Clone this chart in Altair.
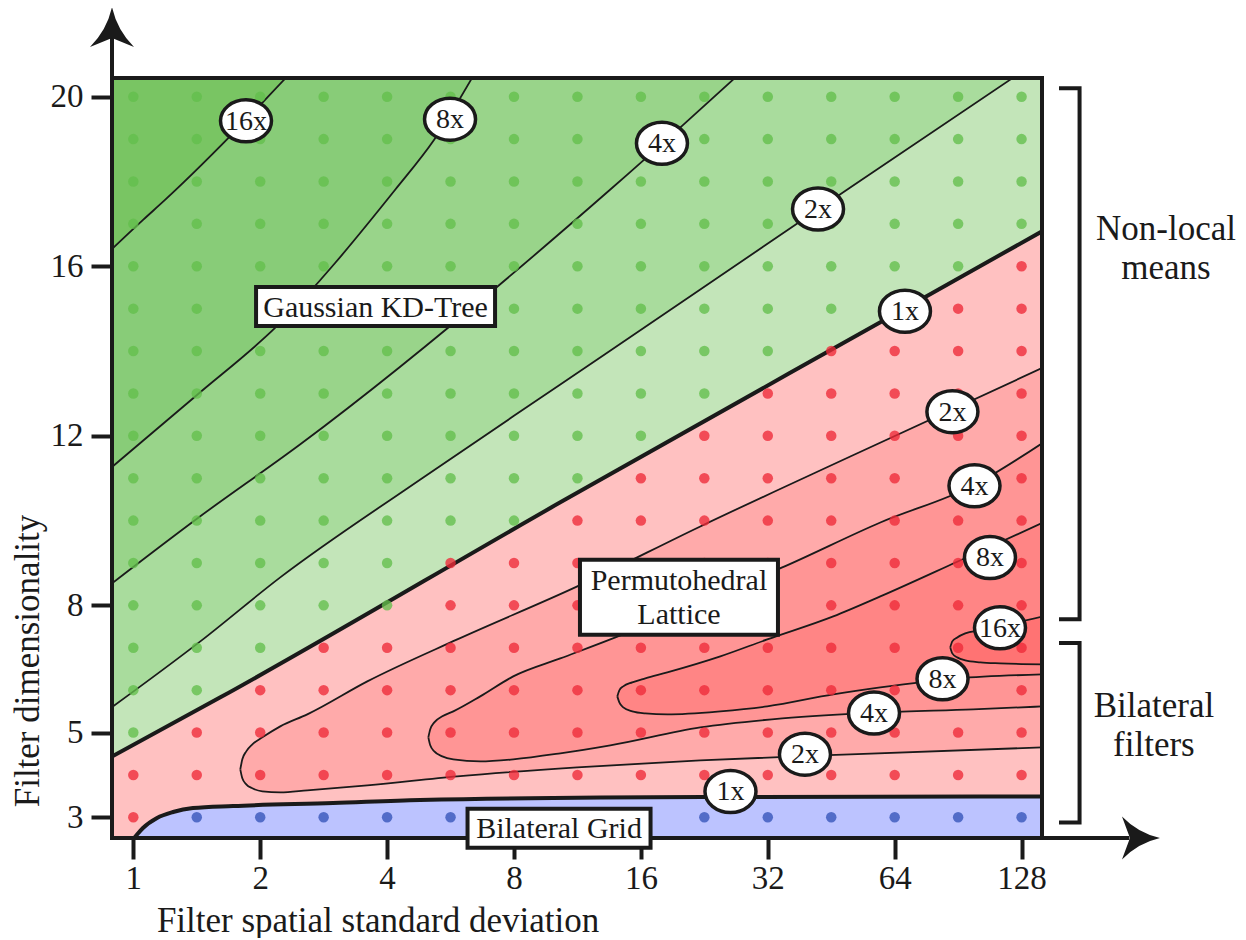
import json
import altair as alt
import pandas as pd

FONT = "Liberation Serif"

# ---------------- data ----------------
# x values are log2 of the filter spatial standard deviation (0 -> 1, 7 -> 128)
X_TICKS = [0, 1, 2, 3, 4, 5, 6, 7]
X_TICK_LABELS = ["1", "2", "4", "8", "16", "32", "64", "128"]
Y_TICKS = [3, 5, 8, 12, 16, 20]

SAMPLE_LOG2_SIGMA = [0, 0.5, 1, 1.5, 2, 2.5, 3, 3.5, 4, 4.5, 5, 5.5, 6, 6.5, 7]
SAMPLE_DIMS = [20, 19, 18, 17, 16, 15, 14, 13, 12, 11, 10, 9, 8, 7, 6, 5, 4, 3]
# fastest method per sample: G = Gaussian KD-tree, R = permutohedral lattice, B = bilateral grid
WINNER_ROWS = [
    "GGGGGGGGGGGGGGG",
    "GGGGGGGGGGGGGGG",
    "GGGGGGGGGGGGGGG",
    "GGGGGGGGGGGGGGG",
    "GGGGGGGGGGGGGGR",
    "GGGGGGGGGGGGGRR",
    "GGGGGGGGGGGRRRR",
    "GGGGGGGGGGRRRRR",
    "GGGGGGGGGRRRRRR",
    "GGGGGGGGRRRRRRR",
    "GGGGGGGRRRRRRRR",
    "GGGGGRRRRRRRRRR",
    "GGGGGRRRRRRRRRR",
    "GGGRRRRRRRRRRRR",
    "GGRRRRRRRRRRRRR",
    "GRRRRRRRRRRRRRR",
    "RRRRRRRRRRRRRRR",
    "RBBBBBBBBBBBBBB",
]

# Gaussian KD-tree speed-up iso-lines (x = log2 sigma, d = dimensionality)
KD_1X_X = [-0.181, 0.686, 3.365, 5.887, 7.171]
KD_1X_D = [4.415, 5.83, 10.43, 14.68, 16.84]
KD_2X_X = [-0.181, 0.528, 1.158, 2.262, 3.365, 4.468, 5.650, 6.935, 7.171]
KD_2X_D = [5.57, 7.15, 8.66, 10.97, 13.21, 15.45, 17.86, 20.45, 20.92]
KD_4X_X = [-0.181, 0.504, 1.316, 3.759, 4.342, 4.744, 4.941]
KD_4X_D = [8.49, 10.05, 11.80, 17.81, 19.36, 20.45, 20.99]
KD_8X_X = [-0.181, 0.504, 1.119, 2.065, 2.372, 2.671, 2.774]
KD_8X_D = [11.23, 12.97, 14.55, 17.81, 18.99, 20.45, 20.99]
KD_16X_X = [-0.181, 0.079, 0.252, 0.875, 1.198, 1.355]
KD_16X_D = [16.37, 17.10, 17.57, 19.41, 20.43, 20.92]

# bilateral grid / permutohedral boundary
GRID_X = [-0.042, 0.013, 0.076, 0.187, 0.313, 0.470, 0.786, 1.574, 2.259, 4.489, 7.169]
GRID_D = [2.347, 2.535, 2.748, 2.984, 3.125, 3.219, 3.267, 3.337, 3.408, 3.479, 3.491]

# permutohedral lattice speed-up regions (upper / lower boundary)
PL_2X_X = [0.843, 0.859, 0.890, 0.938, 1.017, 1.158, 1.371, 1.844, 2.553, 3.499, 4.468, 5.650, 7.171]
PL_2X_UP = [4.132, 4.368, 4.556, 4.721, 4.886, 5.146, 5.429, 6.207, 7.197, 8.447, 9.862, 11.512, 13.611]
PL_2X_LO = [4.132, 3.920, 3.778, 3.684, 3.613, 3.590, 3.637, 3.755, 3.967, 4.179, 4.344, 4.486, 4.651]
PL_4X_X = [2.325, 2.340, 2.372, 2.435, 2.522, 2.734, 2.994, 3.365, 3.759, 4.468, 5.114, 5.887, 6.619, 7.171]
PL_4X_UP = [4.886, 5.075, 5.240, 5.382, 5.500, 5.853, 6.325, 6.749, 7.197, 8.093, 8.895, 9.956, 10.829, 11.843]
PL_4X_LO = [4.886, 4.698, 4.556, 4.438, 4.368, 4.320, 4.368, 4.509, 4.698, 5.122, 5.334, 5.476, 5.547, 5.617]
PL_8X_X = [3.814, 3.830, 3.861, 3.932, 4.035, 4.208, 4.626, 4.996, 5.516, 5.887, 6.493, 7.171]
PL_8X_UP = [5.853, 5.995, 6.089, 6.183, 6.278, 6.419, 6.797, 7.197, 7.740, 8.211, 9.030, 9.956]
PL_8X_LO = [5.853, 5.712, 5.594, 5.500, 5.452, 5.429, 5.500, 5.617, 5.900, 6.065, 6.278, 6.372]
PL_16X_X = [6.438, 6.454, 6.493, 6.556, 6.675, 6.832, 7.171]
PL_16X_UP = [7.009, 7.150, 7.244, 7.339, 7.409, 7.504, 7.740]
PL_16X_LO = [7.009, 6.867, 6.773, 6.702, 6.655, 6.631, 6.608]

SPEEDUP_LABELS = ["16x", "8x", "4x", "2x", "1x", "2x", "4x", "8x", "16x", "8x", "4x", "2x", "1x"]
SPEEDUP_X = [0.888, 2.496, 4.166, 5.396, 6.081, 6.455, 6.629, 6.751, 6.830, 6.377, 5.837, 5.293, 4.706]
SPEEDUP_D = [19.43, 19.47, 18.90, 17.35, 14.94, 12.57, 10.82, 9.13, 7.47, 6.27, 5.46, 4.49, 3.61]

METHOD_NAMES = ["Gaussian KD-Tree", "Permutohedral\nLattice", "Bilateral Grid"]
METHOD_X = [1.909, 4.300, 3.355]
METHOD_D = [15.05, 8.19, 2.74]

APPLICATIONS = ["Non-local\nmeans", "Bilateral\nfilters"]
APP_TOP = [20.197, 7.112]
APP_BOTTOM = [7.671, 2.877]
APP_TEXT_X = [8.138, 8.043]
APP_TEXT_D = [16.44, 5.166]

# ---------------- styling ----------------
XMIN, XMAX = -0.168, 7.161
YMIN, YMAX = 2.512, 20.441
BELOW, ABOVE = 2.2, 21.6

G_1X, G_2X, G_4X, G_8X, G_16X = "#c3e5b9", "#a9dc9d", "#99d48a", "#88cc78", "#79c563"
R_1X, R_2X, R_4X, R_8X, R_16X = "#ffc1c1", "#ffaaaa", "#ff9595", "#ff8585", "#ff7373"
BLUE = "#bcc3ff"
INK = "#1a1a1a"

XS = alt.Scale(domain=[XMIN, XMAX], nice=False, zero=False)
YS = alt.Scale(domain=[YMIN, YMAX], nice=False, zero=False)

XAXIS = alt.Axis(
    values=X_TICKS, labelExpr=json.dumps(X_TICK_LABELS) + "[datum.value]",
    title="Filter spatial standard deviation", domain=False, grid=False,
    tickSize=21, tickWidth=4, tickColor=INK,
    labelFont=FONT, labelFontSize=33, labelColor=INK, labelPadding=3,
    labelFlush=False, labelOverlap=False,
    titleFont=FONT, titleFontSize=35, titleFontWeight="normal", titleColor=INK,
    titleX=265.5, titleY=93, titleAlign="center", titleBaseline="alphabetic",
)
YAXIS = alt.Axis(
    values=Y_TICKS, title="Filter dimensionality", domain=False, grid=False,
    tickSize=21, tickWidth=4, tickColor=INK,
    labelFont=FONT, labelFontSize=33, labelColor=INK, labelPadding=8,
    labelFlush=False, labelOverlap=False,
    titleFont=FONT, titleFontSize=35, titleFontWeight="normal", titleColor=INK,
    titleX=-74, titleY=582.5, titleAngle=270, titleAlign="center", titleBaseline="alphabetic",
)


def ex(field="x"):
    return alt.X(f"{field}:Q", scale=XS, axis=XAXIS)


def ey(field="d"):
    return alt.Y(f"{field}:Q", scale=YS, axis=YAXIS)


layers = []


def add_band(xs, ds, other, color):
    df = pd.DataFrame({"x": xs, "d": ds, "d2": [other] * len(xs)})
    layers.append(
        alt.Chart(df).mark_area(color=color, opacity=1, clip=True, interpolate="monotone")
        .encode(x=ex(), y=ey(), y2="d2:Q")
    )


def add_line(xs, ds, width):
    df = pd.DataFrame({"x": xs, "d": ds})
    layers.append(
        alt.Chart(df).mark_line(color=INK, strokeWidth=width, clip=True, interpolate="monotone")
        .encode(x=ex(), y=ey())
    )


def add_region(xs, up, lo, color):
    df = pd.DataFrame({"x": xs, "up": up, "lo": lo})
    layers.append(
        alt.Chart(df).mark_area(color=color, opacity=1, clip=True, interpolate="monotone")
        .encode(x=ex(), y=ey("up"), y2="lo:Q")
    )


# fills
add_band(KD_1X_X, KD_1X_D, BELOW, R_1X)
add_band(KD_1X_X, KD_1X_D, ABOVE, G_1X)
add_band(KD_2X_X, KD_2X_D, ABOVE, G_2X)
add_band(KD_4X_X, KD_4X_D, ABOVE, G_4X)
add_band(KD_8X_X, KD_8X_D, ABOVE, G_8X)
add_band(KD_16X_X, KD_16X_D, ABOVE, G_16X)
add_band(GRID_X, GRID_D, BELOW, BLUE)
add_region(PL_2X_X, PL_2X_UP, PL_2X_LO, R_2X)
add_region(PL_4X_X, PL_4X_UP, PL_4X_LO, R_4X)
add_region(PL_8X_X, PL_8X_UP, PL_8X_LO, R_8X)
add_region(PL_16X_X, PL_16X_UP, PL_16X_LO, R_16X)

# contour lines
for xs, ds in [(KD_2X_X, KD_2X_D), (KD_4X_X, KD_4X_D), (KD_8X_X, KD_8X_D), (KD_16X_X, KD_16X_D)]:
    add_line(xs, ds, 1.8)
for xs, up, lo in [(PL_2X_X, PL_2X_UP, PL_2X_LO), (PL_4X_X, PL_4X_UP, PL_4X_LO),
                   (PL_8X_X, PL_8X_UP, PL_8X_LO), (PL_16X_X, PL_16X_UP, PL_16X_LO)]:
    add_line(xs, up, 1.8)
    add_line(xs, lo, 1.8)
add_line(KD_1X_X, KD_1X_D, 4)
add_line(GRID_X, GRID_D, 4)

# samples
rows = []
for d, row in zip(SAMPLE_DIMS, WINNER_ROWS):
    for xv, w in zip(SAMPLE_LOG2_SIGMA, row):
        rows.append({"x": xv, "d": d, "winner": w})
samples = pd.DataFrame(rows)
layers.append(
    alt.Chart(samples).mark_point(shape="circle", filled=True, size=110, opacity=0.78, strokeWidth=0)
    .encode(x=ex(), y=ey(),
            color=alt.Color("winner:N", legend=None,
                            scale=alt.Scale(domain=["G", "R", "B"],
                                            range=["#63bf4c", "#ee2a38", "#3553b8"])))
)

# frame
frame = pd.DataFrame({"x": [XMIN], "x2": [XMAX], "d": [YMIN], "d2": [YMAX]})
layers.append(
    alt.Chart(frame).mark_rect(fill="white", fillOpacity=0, stroke=INK, strokeWidth=4, clip=False)
    .encode(x=ex(), x2="x2:Q", y=ey(), y2="d2:Q")
)

# axis arrows
layers.append(
    alt.Chart(pd.DataFrame({"x": [XMIN], "d": [YMAX], "d2": [21.4]}))
    .mark_rule(color=INK, strokeWidth=4, clip=False).encode(x=ex(), y=ey(), y2="d2:Q")
)
layers.append(
    alt.Chart(pd.DataFrame({"x": [XMAX], "x2": [7.85], "d": [YMIN]}))
    .mark_rule(color=INK, strokeWidth=4, clip=False).encode(x=ex(), x2="x2:Q", y=ey())
)
layers.append(
    alt.Chart(pd.DataFrame({"x": [XMIN], "d": [21.644]}))
    .mark_point(shape="M0,-20 Q5,3 22,20 L0,11 L-22,20 Q-5,3 0,-20 Z", size=4, filled=True,
                color=INK, opacity=1, strokeWidth=0, clip=False)
    .encode(x=ex(), y=ey())
)
layers.append(
    alt.Chart(pd.DataFrame({"x": [7.941], "d": [YMIN]}))
    .mark_point(shape="M19,0 Q-3,5 -19,21.5 L-11,0 L-19,-21.5 Q-3,-5 19,0 Z", size=4, filled=True,
                color=INK, opacity=1, strokeWidth=0, clip=False)
    .encode(x=ex(), y=ey())
)

# speed-up labels
lab = pd.DataFrame({"x": SPEEDUP_X, "d": SPEEDUP_D, "t": SPEEDUP_LABELS})
layers.append(
    alt.Chart(lab).mark_point(shape="M-25.5,0 A25.5,21 0 1,0 25.5,0 A25.5,21 0 1,0 -25.5,0 Z",
                              size=4, filled=True, fill="white", stroke=INK,
                              strokeWidth=3.5, opacity=1, clip=False)
    .encode(x=ex(), y=ey())
)
layers.append(
    alt.Chart(lab).mark_text(font=FONT, fontSize=28, color=INK, align="center",
                             baseline="middle", dy=1, clip=False)
    .encode(x=ex(), y=ey(), text="t:N")
)

# method boxes
BOX_SHAPES = ["M-119.5,-19.5 H119.5 V19.5 H-119.5 Z",
              "M-99,-37.5 H99 V37.5 H-99 Z",
              "M-91.5,-19.5 H91.5 V19.5 H-91.5 Z"]
BOX_TEXT_DY = [1, -16, 1]
for name, xv, dv, shp, tdy in zip(METHOD_NAMES, METHOD_X, METHOD_D, BOX_SHAPES, BOX_TEXT_DY):
    df = pd.DataFrame({"x": [xv], "d": [dv], "t": [name]})
    layers.append(
        alt.Chart(df).mark_point(shape=shp, size=4, filled=True, fill="white", stroke=INK,
                                 strokeWidth=4, opacity=1, clip=False)
        .encode(x=ex(), y=ey())
    )
    layers.append(
        alt.Chart(df).mark_text(font=FONT, fontSize=30, color=INK, align="center",
                                baseline="middle", lineBreak="\n", lineHeight=34, dy=tdy, clip=False)
        .encode(x=ex(), y=ey(), text="t:N")
    )

# application brackets
br = []
for i, (top, bot) in enumerate(zip(APP_TOP, APP_BOTTOM)):
    for k, (xv, dv) in enumerate([(7.295, top), (7.457, top), (7.457, bot), (7.295, bot)]):
        br.append({"g": i, "o": k, "x": xv, "d": dv})
layers.append(
    alt.Chart(pd.DataFrame(br)).mark_line(color=INK, strokeWidth=4, strokeJoin="miter",
                                          strokeCap="butt", clip=False)
    .encode(x=ex(), y=ey(), detail="g:N", order="o:Q")
)
app = pd.DataFrame({"x": APP_TEXT_X, "d": APP_TEXT_D, "t": APPLICATIONS})
layers.append(
    alt.Chart(app).mark_text(font=FONT, fontSize=35, color=INK, align="center",
                             baseline="middle", lineBreak="\n", lineHeight=39, dy=-19, clip=False)
    .encode(x=ex(), y=ey(), text="t:N")
)

chart = (
    alt.layer(*layers)
    .properties(width=930, height=760, autosize=alt.AutoSizeParams(type="none"),
                padding={"left": 104, "top": 70, "right": 196, "bottom": 100})
    .configure_view(strokeWidth=0)
)

chart.save("out.html", embed_options={"renderer": "svg", "actions": False})
